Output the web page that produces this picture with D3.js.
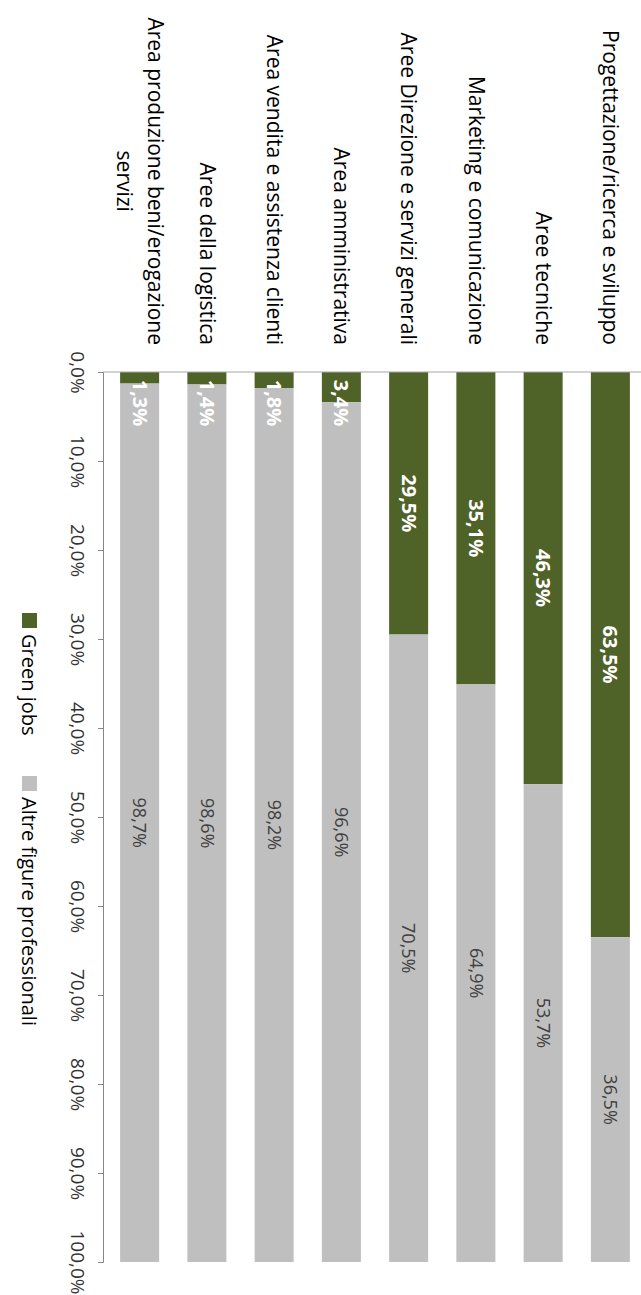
<!DOCTYPE html>
<html>
<head>
<meta charset="utf-8">
<script src="https://cdn.jsdelivr.net/npm/d3@7"></script>
<style>
  body { margin: 0; background: #fff; }
  text { font-family: "Open Sans", sans-serif; }
</style>
</head>
<body>
<script>
// categories from left to right (chart is drawn rotated 90°)
const categories = [
  "Area produzione beni/erogazione servizi",
  "Aree della logistica",
  "Area vendita e assistenza clienti",
  "Area amministrativa",
  "Aree Direzione e servizi generali",
  "Marketing e comunicazione",
  "Aree tecniche",
  "Progettazione/ricerca e sviluppo"
];
const greenJobs = [1.3, 1.4, 1.8, 3.4, 29.5, 35.1, 46.3, 63.5];
const altreFigure = [98.7, 98.6, 98.2, 96.6, 70.5, 64.9, 53.7, 36.5];
const tickValues = [0, 10, 20, 30, 40, 50, 60, 70, 80, 90, 100];
const seriesKeys = ["green", "altre"];
const seriesNames = ["Green jobs", "Altre figure professionali"];

const colors = { green: "#4f6228", altre: "#bfbfbf" };
const width = 641, height = 1295;

const svg = d3.select("body").append("svg")
    .attr("width", width)
    .attr("height", height);

const y = d3.scaleLinear().domain([0, 100]).range([372, 1262]);
const x = d3.scaleBand().domain(categories).range([106, 644])
    .paddingInner(0.42).paddingOuter(0.21);

const fmt = d => d3.format(".1f")(d).replace(".", ",") + "%";

// build rows for the stack
const rows = categories.map((c, i) => ({ cat: c, green: greenJobs[i], altre: altreFigure[i] }));
const series = d3.stack().keys(seriesKeys)(rows);

// bars
svg.append("g").selectAll("g")
  .data(series)
  .join("g")
    .attr("fill", d => colors[d.key])
  .selectAll("rect")
  .data(d => d)
  .join("rect")
    .attr("x", d => x(d.data.cat))
    .attr("width", x.bandwidth())
    .attr("y", d => y(d[0]))
    .attr("height", d => y(d[1]) - y(d[0]));

// value axis (left side)
const axis = svg.append("g")
    .attr("transform", "translate(103,0)")
    .call(d3.axisLeft(y).tickValues(tickValues).tickFormat(fmt).tickSize(5));
axis.select(".domain").attr("stroke", "#868686");
axis.selectAll(".tick line").attr("stroke", "#868686");
axis.selectAll(".tick text")
    .attr("x", null).attr("dy", "0.35em")
    .attr("text-anchor", "middle")
    .attr("transform", "translate(-25,0) rotate(90)")
    .attr("fill", "#333")
    .style("font-size", "19px");

// category axis line
svg.append("line")
    .attr("x1", 103).attr("x2", width)
    .attr("y1", y(0)).attr("y2", y(0))
    .attr("stroke", "#a6a6a6");

// category labels, wrapped and rotated
const catFont = 21, lineH = 31, labelEnd = 345, maxW = 350;
const catG = svg.append("g");
categories.forEach(c => {
  const t = catG.append("text")
      .style("font-size", catFont + "px")
      .attr("fill", "#000");
  // split into lines that fit
  const words = c.split(" ");
  let lines = [], cur = [];
  const probe = catG.append("text").style("font-size", catFont + "px");
  words.forEach(w => {
    const test = cur.concat(w).join(" ");
    probe.text(test);
    if (probe.node().getComputedTextLength() > maxW && cur.length) {
      lines.push(cur.join(" "));
      cur = [w];
    } else cur.push(w);
  });
  lines.push(cur.join(" "));
  let widest = 0;
  lines.forEach(l => { probe.text(l); widest = Math.max(widest, probe.node().getComputedTextLength()); });
  probe.remove();
  const cx = x(c) + x.bandwidth() / 2;
  const off = (lines.length - 1) * lineH / 2;
  t.attr("text-anchor", "middle")
   .attr("transform", `translate(${cx + off},${labelEnd - widest / 2}) rotate(90)`);
  lines.forEach((l, i) => {
    t.append("tspan").attr("x", 0).attr("y", i * lineH).attr("dy", "0.35em").text(l);
  });
});

// data labels
svg.append("g").selectAll("text")
  .data(series[0])
  .join("text")
    .attr("transform", d => `translate(${x(d.data.cat) + x.bandwidth() / 2},${Math.max(y((d[0] + d[1]) / 2), y(0) + 31)}) rotate(90)`)
    .attr("text-anchor", "middle")
    .attr("dy", "0.35em")
    .attr("fill", "#fff")
    .style("font-size", "20px")
    .style("font-weight", "bold")
    .text(d => fmt(d[1] - d[0]));

svg.append("g").selectAll("text")
  .data(series[1])
  .join("text")
    .attr("transform", d => `translate(${x(d.data.cat) + x.bandwidth() / 2},${y((d[0] + d[1]) / 2)}) rotate(90)`)
    .attr("text-anchor", "middle")
    .attr("dy", "0.35em")
    .attr("fill", "#404040")
    .style("font-size", "18px")
    .text(d => fmt(d[1] - d[0]));

// legend
const legendY = [613, 776];
const legend = svg.append("g").selectAll("g")
  .data(seriesKeys)
  .join("g")
    .attr("transform", (d, i) => `translate(0,${legendY[i]})`);
legend.append("rect")
    .attr("x", 22).attr("width", 15).attr("height", 15)
    .attr("fill", d => colors[d]);
legend.append("text")
    .attr("transform", "translate(29,21) rotate(90)")
    .attr("dy", "0.35em")
    .style("font-size", "20px")
    .text((d, i) => seriesNames[i]);
</script>
</body>
</html>
